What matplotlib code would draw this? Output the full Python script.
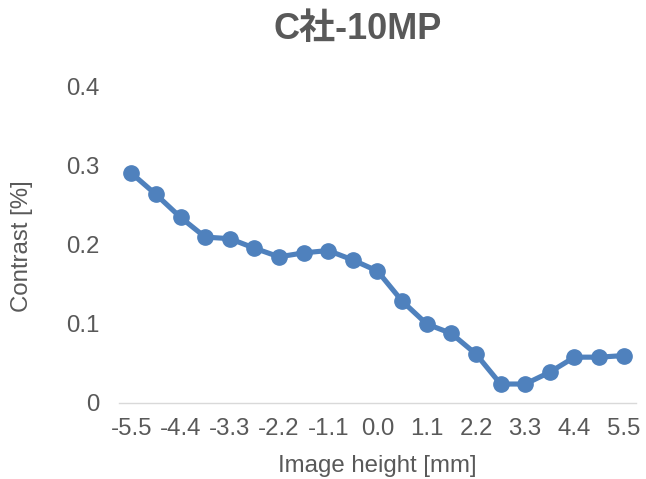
import matplotlib
matplotlib.use('Agg')
import matplotlib.pyplot as plt

plt.rcParams['font.family'] = ['Liberation Sans', 'Noto Sans CJK JP', 'DejaVu Sans']

# image height positions (mm) and contrast values
heights = [-5.5, -4.95, -4.4, -3.85, -3.3, -2.75, -2.2, -1.65, -1.1, -0.55, 0.0,
           0.55, 1.1, 1.65, 2.2, 2.75, 3.3, 3.85, 4.4, 4.95, 5.5]
contrast = [0.291, 0.264, 0.235, 0.210, 0.208, 0.196, 0.185, 0.190, 0.193, 0.181, 0.167,
            0.129, 0.100, 0.088, 0.062, 0.024, 0.024, 0.039, 0.058, 0.058, 0.060]
y_ticks = [0, 0.1, 0.2, 0.3, 0.4]
y_tick_labels = ['0', '0.1', '0.2', '0.3', '0.4']

text_gray = '#595959'
blue = '#4F81BD'

fig = plt.figure(figsize=(6.46, 4.79), dpi=100)
ax = fig.add_axes([0.1842, 0.1587, 0.8003, 0.6597])

idx = list(range(len(heights)))
ax.plot(idx, contrast, color=blue, linewidth=3.7, marker='o', markersize=11,
        solid_capstyle='round', solid_joinstyle='round')

ax.set_xlim(-0.5, len(heights) - 0.5)
ax.set_ylim(0, 0.4)
ax.set_xticks(idx[::2])
ax.set_xticklabels([f'{h:.1f}' for h in heights[::2]])
ax.set_yticks(y_ticks)
ax.set_yticklabels(y_tick_labels)
ax.tick_params(axis='both', length=0, labelsize=17.3, colors=text_gray)
ax.tick_params(axis='y', pad=14)
ax.tick_params(axis='x', pad=11)

for s in ['top', 'right', 'left']:
    ax.spines[s].set_visible(False)
ax.spines['bottom'].set_color('#D9D9D9')
ax.spines['bottom'].set_linewidth(1.0)

fig.text(0.553, 0.939, 'C社-10MP', ha='center', va='center', fontsize=26,
         fontweight='bold', color=text_gray)
fig.text(0.034, 0.486, 'Contrast [%]', ha='center', va='center', rotation=90,
         fontsize=17.3, color=text_gray)
fig.text(0.584, 0.027, 'Image height [mm]', ha='center', va='center',
         fontsize=17.3, color=text_gray)

fig.savefig('out.png', dpi=100)
